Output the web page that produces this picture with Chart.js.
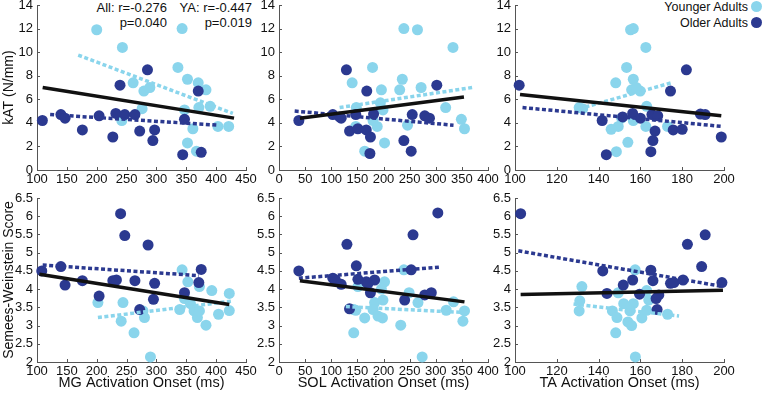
<!DOCTYPE html>
<html>
<head>
<meta charset="utf-8">
<script src="https://cdn.jsdelivr.net/npm/chart.js@4.4.1/dist/chart.umd.min.js"></script>
<style>
    body {
        margin: 0;
        width: 764px;
        height: 395px;
        overflow: hidden;
        position: relative;
        background: #fff;
        font-family: "Liberation Sans", Arial, sans-serif;
        color: #111;
    }
    canvas {
        position: absolute;
    }
    .note {
        position: absolute;
        top: 0;
        font-size: 13px;
        line-height: 15px;
        text-align: right;
        white-space: pre;
    }
    .key {
        position: absolute;
        right: 16px;
        font-size: 12.5px;
        line-height: 16px;
    }
    .dot {
        position: absolute;
        width: 11px;
        height: 11px;
        border-radius: 50%;
    }
</style>
</head>
<body>
<div class="note" style="right:597px">All: r=-0.276
p=0.040</div>
<div class="note" style="right:512px">YA: r=-0.447
p=0.019</div>
<div class="key" style="top:-1px">Younger Adults</div>
<div class="key" style="top:15px">Older Adults</div>
<div class="dot" style="left:751px;top:1px;background:#8ad5ec"></div>
<div class="dot" style="left:751px;top:17px;background:#2b3990"></div>
<script>
// tick labels
const mgTicks = [100, 150, 200, 250, 300, 350, 400, 450];
const solTicks = [0, 50, 100, 150, 200, 250, 300, 350, 400];
const taTicks = [100, 120, 140, 160, 180, 200];
const katTicks = [0, 2, 4, 6, 8, 10, 12, 14];
const swTicks = [2, 2.5, 3, 3.5, 4, 4.5, 5, 5.5, 6, 6.5];

// MG onset vs kAT
const mgKatYaX = [200, 243, 343, 336, 352, 370, 383, 261, 279, 289, 276, 347, 371, 390, 242, 361, 352, 367, 403, 421];
const mgKatYaY = [11.9, 10.4, 12.0, 8.7, 7.7, 7.4, 6.8, 7.4, 6.7, 7.0, 5.2, 5.1, 5.3, 5.4, 4.2, 3.5, 2.3, 1.6, 3.7, 3.7];
const mgKatOaX = [109, 140, 147, 176, 204, 227, 232, 247, 239, 285, 264, 272, 297, 294, 347, 344, 370, 375];
const mgKatOaY = [4.2, 4.7, 4.4, 3.4, 4.6, 2.8, 4.8, 4.7, 7.2, 8.5, 4.7, 3.3, 3.4, 2.5, 4.3, 1.3, 6.7, 1.5];
const mgKatFits = [[[109.5, 7.0], [430, 4.4]], [[169, 9.75], [428, 4.8]], [[122, 4.7], [404, 3.8]]];

// SOL onset vs kAT
const solKatYaX = [239, 265, 333, 179, 140, 196, 236, 231, 272, 148, 194, 199, 319, 349, 355, 147, 188, 246, 202, 164, 180];
const solKatYaY = [12.0, 11.9, 10.4, 8.7, 7.4, 6.8, 7.7, 6.8, 7.0, 5.3, 5.7, 5.1, 5.3, 4.3, 3.5, 3.7, 3.7, 3.8, 2.3, 1.6, 4.2];
const solKatOaX = [38, 103, 116, 119, 129, 135, 147, 151, 168, 167, 175, 174, 181, 239, 255, 253, 279, 288, 302];
const solKatOaY = [4.2, 4.7, 4.5, 4.4, 8.5, 3.3, 4.7, 3.5, 6.7, 3.4, 2.8, 1.4, 4.75, 2.5, 4.7, 1.6, 4.6, 4.4, 7.2];
const solKatFits = [[[40, 4.4], [354, 6.2]], [[116, 5.3], [370, 7.0]], [[30, 5.0], [334, 3.8]]];

// TA onset vs kAT
const taKatYaX = [155.3, 156.6, 162.6, 153.4, 148.2, 156.6, 155.8, 159.9, 158, 130.7, 132.4, 163, 151, 156.6, 149.4, 146, 162.6, 173, 154, 148.5];
const taKatYaY = [11.9, 12.0, 10.4, 8.7, 7.4, 7.7, 6.8, 6.7, 7.0, 5.3, 5.2, 5.4, 4.4, 4.2, 3.7, 3.45, 3.7, 3.7, 2.35, 1.55];
const taKatOaX = [102, 143.7, 141.7, 151.5, 156.3, 160, 165.5, 168.3, 167, 166, 165, 174.4, 175.7, 180, 182, 188.7, 191, 198.7];
const taKatOaY = [7.2, 1.3, 4.2, 4.5, 4.8, 4.4, 4.7, 4.6, 3.3, 2.5, 1.55, 6.7, 3.4, 3.45, 8.5, 4.75, 4.7, 2.8];
const taKatFits = [[[102.4, 6.4], [198.7, 4.6]], [[130.7, 5.2], [174.8, 7.4]], [[103.6, 5.3], [199, 3.7]]];

// MG onset vs Semmes-Weinstein
const mgSwYaX = [202, 244, 241, 262.5, 277.5, 280, 290, 339, 343, 352.6, 347, 357, 363, 368.6, 372, 372, 392.7, 383, 404, 422, 422];
const mgSwYaY = [3.63, 3.63, 3.12, 2.8, 3.4, 3.22, 2.14, 3.44, 4.53, 4.2, 3.74, 3.6, 3.4, 3.22, 3.4, 4.07, 3.96, 3.01, 3.31, 3.88, 3.41];
const mgSwOaX = [108, 140, 147, 176, 204, 227, 233, 240, 247, 264, 272, 286, 297, 295, 347, 375, 371];
const mgSwOaY = [4.5, 4.62, 4.11, 4.23, 3.81, 4.23, 4.25, 6.07, 5.47, 4.23, 3.44, 5.21, 4.16, 3.72, 3.9, 4.54, 4.18];
const mgSwFits = [[[104, 4.41], [422, 3.58]], [[202, 3.22], [427, 3.67]], [[109.5, 4.66], [371, 4.37]]];

// SOL onset vs Semmes-Weinstein
const solSwYaX = [143, 147, 143, 164, 151, 183, 180, 189.5, 198, 199, 202, 196, 233, 239, 249, 266, 274, 320, 334, 355, 352];
const solSwYaY = [3.44, 3.42, 2.8, 3.21, 4.07, 3.63, 3.44, 3.26, 3.21, 3.7, 4.2, 4.0, 3.01, 4.53, 3.9, 3.63, 2.14, 3.42, 3.65, 3.4, 3.12];
const solSwOaX = [38, 103, 108, 119, 130, 148, 135, 151, 167, 175, 183, 170, 240.5, 256.5, 253, 279, 291.5, 304];
const solSwOaY = [4.5, 4.3, 4.25, 4.13, 5.23, 4.64, 3.46, 4.27, 4.2, 3.9, 4.25, 4.15, 3.7, 5.49, 4.53, 3.84, 3.9, 6.09];
const solSwFits = [[[40, 4.23], [355, 3.65]], [[128, 3.52], [352, 3.36]], [[38, 4.3], [306, 4.6]]];

// TA onset vs Semmes-Weinstein
const taSwYaX = [157.5, 163, 164, 132, 131, 130.7, 149.4, 146.6, 148.8, 148.2, 154, 155.8, 160.7, 156.6, 163, 173, 157.6, 155, 152];
const taSwYaY = [4.53, 3.96, 3.7, 4.07, 3.68, 3.4, 3.9, 3.4, 3.22, 2.8, 3.1, 3.0, 3.21, 3.6, 3.42, 3.31, 2.14, 3.4, 3.6];
const taSwOaX = [102.7, 142, 144, 151.8, 156.3, 159.6, 165, 166, 167.5, 168.8, 168, 174.4, 176, 180.4, 182.5, 189.3, 191, 199];
const taSwOaY = [6.07, 4.5, 3.88, 4.11, 4.25, 3.86, 4.52, 4.23, 3.74, 3.84, 3.44, 4.16, 4.18, 4.25, 5.23, 4.62, 5.49, 4.18];
const taSwFits = [[[102.7, 3.85], [199.5, 3.97]], [[128, 3.59], [178.5, 3.26]], [[101.6, 5.05], [199.5, 4.07]]];

const LIGHT = "#8ad5ec";
const DARK = "#2b3990";
const AXIS = "#555";
const FONT = "'Liberation Sans', Arial, sans-serif";

// matlab style: short tick marks pointing into the plot
const inwardTicks = {
    id: "inwardTicks",
    beforeDatasetsDraw(chart) {
        const { ctx, chartArea, scales } = chart;
        ctx.save();
        ctx.strokeStyle = AXIS;
        ctx.lineWidth = 1;
        scales.x.ticks.forEach((t) => {
            const px = Math.round(scales.x.getPixelForValue(t.value)) + 0.5;
            ctx.beginPath();
            ctx.moveTo(px, chartArea.bottom);
            ctx.lineTo(px, chartArea.bottom - 3);
            ctx.stroke();
        });
        scales.y.ticks.forEach((t) => {
            const py = Math.round(scales.y.getPixelForValue(t.value)) + 0.5;
            ctx.beginPath();
            ctx.moveTo(chartArea.left, py);
            ctx.lineTo(chartArea.left + 3, py);
            ctx.stroke();
        });
        ctx.restore();
    },
};

class PanelFactory {
    static createCanvas = (box) => {
        const canvas = document.createElement("canvas");
        canvas.width = box.w;
        canvas.height = box.h;
        canvas.style.left = box.x + "px";
        canvas.style.top = box.y + "px";
        document.body.appendChild(canvas);

        return canvas;
    };

    static toPoints = (xs, ys) => xs.map((x, i) => ({ x: x, y: ys[i] }));

    static fitLine = (ends, color, dash) => ({
        data: ends.map((p) => ({ x: p[0], y: p[1] })),
        showLine: true,
        borderColor: color,
        borderWidth: 3.5,
        borderDash: dash,
        borderCapStyle: "butt",
        pointRadius: 0,
        clip: false,
    });

    static dots = (points, color) => ({
        data: points,
        backgroundColor: color,
        borderWidth: 0,
        pointRadius: 5.5,
        clip: false,
    });

    static createAxis = (ticks, size, horizontal, title) => ({
        type: "linear",
        min: ticks[0],
        max: ticks[ticks.length - 1],
        grid: { display: false, drawTicks: false },
        border: { display: true, color: AXIS, width: 1 },
        ticks: {
            color: "#111",
            padding: horizontal ? 2 : 4,
            maxRotation: 0,
            autoSkip: false,
            font: { family: FONT, size: 13 },
            callback: (v) => String(v),
        },
        title: {
            display: !!title,
            text: title || "",
            color: "#111",
            font: { family: FONT, size: horizontal ? 14.5 : 14 },
            padding: horizontal ? { top: 0, bottom: 3 } : { top: 1, bottom: 0 },
        },
        afterBuildTicks: (scale) => {
            scale.ticks = ticks.map((v) => ({ value: v }));
        },
        afterFit: (scale) => {
            if (horizontal) {
                scale.height = size;
            } else {
                scale.width = size;
            }
            scale.paddingTop = 0;
            scale.paddingBottom = 0;
            scale.paddingLeft = 0;
            scale.paddingRight = 0;
        },
    });

    static createPanel = (p) => {
        const canvas = this.createCanvas(p.box);
        const datasets = [
            this.fitLine(p.fits[0], "#111", []),
            this.fitLine(p.fits[1], LIGHT, [4, 2.5]),
            this.fitLine(p.fits[2], DARK, [4, 2.5]),
            this.dots(this.toPoints(p.oaX, p.oaY), DARK),
            this.dots(this.toPoints(p.yaX, p.yaY), LIGHT),
        ];

        return new Chart(canvas, {
            type: "scatter",
            data: { datasets: datasets },
            options: {
                responsive: false,
                animation: false,
                events: [],
                layout: { autoPadding: false, padding: p.pad },
                plugins: { legend: { display: false }, tooltip: { enabled: false } },
                scales: {
                    x: this.createAxis(p.xTicks, p.xh, true, p.xTitle),
                    y: this.createAxis(p.yTicks, p.yw, false, p.yTitle),
                },
            },
            plugins: [inwardTicks],
        });
    };
}

const panels = [
    { box: { x: 0, y: 0, w: 262, h: 190 }, pad: { top: 5, right: 16, left: 0, bottom: 0 }, yw: 37, xh: 20,
      yaX: mgKatYaX, yaY: mgKatYaY, oaX: mgKatOaX, oaY: mgKatOaY, fits: mgKatFits,
      xTicks: mgTicks, yTicks: katTicks, yTitle: "kAT (N/mm)" },
    { box: { x: 250, y: 0, w: 254, h: 190 }, pad: { top: 5, right: 16, left: 0, bottom: 0 }, yw: 29, xh: 20,
      yaX: solKatYaX, yaY: solKatYaY, oaX: solKatOaX, oaY: solKatOaY, fits: solKatFits,
      xTicks: solTicks, yTicks: katTicks },
    { box: { x: 490, y: 0, w: 274, h: 190 }, pad: { top: 5, right: 40, left: 0, bottom: 0 }, yw: 25, xh: 20,
      yaX: taKatYaX, yaY: taKatYaY, oaX: taKatOaX, oaY: taKatOaY, fits: taKatFits,
      xTicks: taTicks, yTicks: katTicks },
    { box: { x: 0, y: 190, w: 262, h: 205 }, pad: { top: 8, right: 16, left: 0, bottom: 0 }, yw: 37, xh: 33,
      yaX: mgSwYaX, yaY: mgSwYaY, oaX: mgSwOaX, oaY: mgSwOaY, fits: mgSwFits,
      xTicks: mgTicks, yTicks: swTicks, yTitle: "Semees-Weinstein Score", xTitle: "MG Activation Onset (ms)" },
    { box: { x: 250, y: 190, w: 254, h: 205 }, pad: { top: 8, right: 16, left: 0, bottom: 0 }, yw: 29, xh: 33,
      yaX: solSwYaX, yaY: solSwYaY, oaX: solSwOaX, oaY: solSwOaY, fits: solSwFits,
      xTicks: solTicks, yTicks: swTicks, xTitle: "SOL Activation Onset (ms)" },
    { box: { x: 490, y: 190, w: 274, h: 205 }, pad: { top: 8, right: 40, left: 0, bottom: 0 }, yw: 25, xh: 33,
      yaX: taSwYaX, yaY: taSwYaY, oaX: taSwOaX, oaY: taSwOaY, fits: taSwFits,
      xTicks: taTicks, yTicks: swTicks, xTitle: "TA Activation Onset (ms)" },
];

panels.forEach((p) => PanelFactory.createPanel(p));
</script>
</body>
</html>
